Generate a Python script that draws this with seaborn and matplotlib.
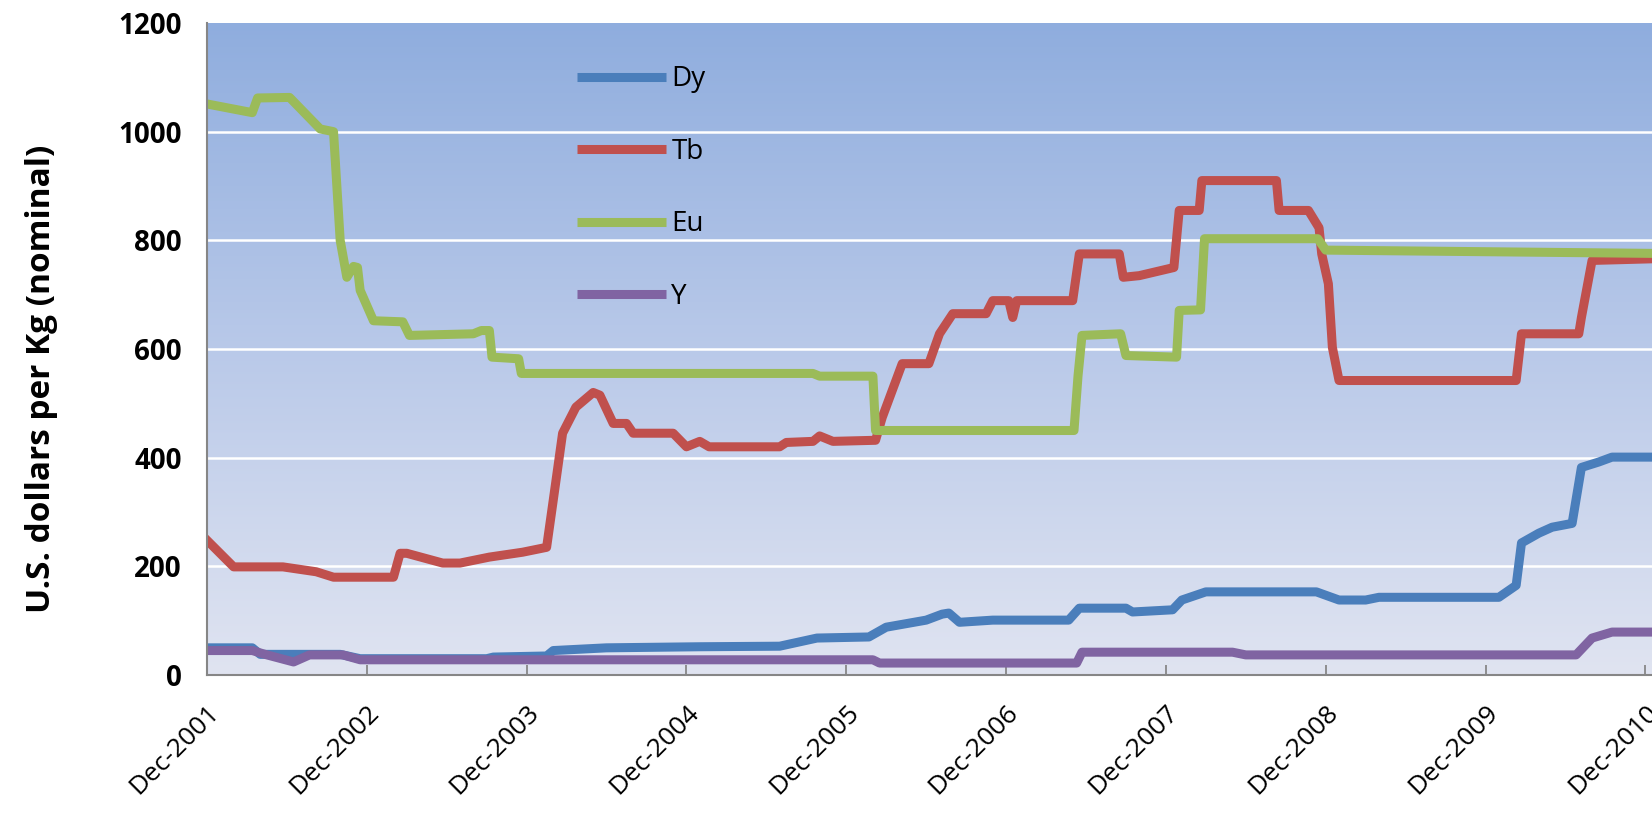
import numpy as np
import pandas as pd
import seaborn as sns
import matplotlib.pyplot as plt
from matplotlib.colors import LinearSegmentedColormap

# months since Dec-2001, and price (USD/kg) at each break point
DY_MONTH = [0, 3.4, 4, 10, 11.5, 21, 21.5, 25.5, 26, 30, 37, 43, 45.8, 49.7, 51, 54, 55.2, 55.7,
            56.5, 59, 64.7, 65.5, 69, 69.5, 72.5, 73.2, 75, 83.3, 85, 87, 88, 97, 98.3, 98.7,
            100, 101, 102.5, 103.2, 104.5, 105.5, 108.5]
DY_PRICE = [50, 50, 38, 38, 30, 30, 33, 35, 45, 50, 52, 53, 68, 70, 88, 101, 112, 114,
            97, 101, 101, 123, 123, 116, 120, 138, 153, 153, 138, 138, 143, 143, 165, 243,
            261, 272, 279, 382, 392, 401, 401]

TB_MONTH = [0, 2, 5.7, 8.2, 9.5, 14, 14.5, 15, 17.7, 19, 21.2, 23.7, 25.5, 26, 26.7, 27.7, 29,
            29.5, 30.5, 31.5, 32, 35, 36, 37, 37.7, 43, 43.5, 45.5, 46, 47, 50.2, 50.7, 52.2,
            54.2, 55, 56, 58.5, 59, 60.2, 60.5, 60.8, 65, 65.5, 68.5, 68.8, 70, 72.6, 73,
            74.5, 74.7, 80.3, 80.5, 82.7, 83.5, 83.7, 84.2, 84.5, 85, 98.3, 98.7, 103,
            103.2, 104, 108.5]
TB_PRICE = [248, 199, 199, 190, 180, 180, 224, 224, 206, 206, 217, 226, 235, 322, 445, 493, 520,
            515, 463, 463, 445, 445, 420, 430, 420, 420, 428, 430, 440, 430, 432, 474, 573,
            573, 628, 665, 665, 689, 689, 658, 689, 689, 775, 775, 732, 735, 750, 855,
            855, 910, 910, 855, 855, 823, 775, 720, 603, 542, 542, 628, 628,
            658, 763, 766]

EU_MONTH = [0, 3.4, 3.8, 6.2, 8.5, 9.5, 10, 10.5, 11, 11.3, 11.5, 12.5, 14.7, 15.2, 20, 20.6,
            21.2, 21.4, 23.4, 23.6, 45.5, 46, 50, 50.2, 65.1, 65.4, 65.7, 68.6, 69, 72.8, 73,
            74.6, 74.9, 83.4, 84, 108.5]
EU_PRICE = [1051, 1035, 1062, 1063, 1005, 1000, 800, 732, 752, 750, 708, 652, 650, 625, 628, 634,
            634, 585, 582, 555, 555, 550, 550, 450, 450, 550, 625, 628, 588, 585, 671,
            672, 803, 803, 782, 776]

Y_MONTH = [0, 3.4, 4.5, 6.5, 7.7, 10.2, 11.5, 50, 50.5, 65.3, 65.7, 77, 78, 102.8, 104, 105.5, 108.5]
Y_PRICE = [45, 45, 37, 24, 37, 37, 28, 28, 22, 22, 42, 42, 37, 37, 68, 79, 79]

SERIES = ['Dy', 'Tb', 'Eu', 'Y']
COLOURS = {'Dy': '#4a7ebb', 'Tb': '#c0504d', 'Eu': '#9bbb59', 'Y': '#8064a2'}
TICK_LABELS = ['Dec-2001', 'Dec-2002', 'Dec-2003', 'Dec-2004', 'Dec-2005',
               'Dec-2006', 'Dec-2007', 'Dec-2008', 'Dec-2009', 'Dec-2010']

frames = []
for name, months, prices in zip(SERIES, [DY_MONTH, TB_MONTH, EU_MONTH, Y_MONTH],
                                [DY_PRICE, TB_PRICE, EU_PRICE, Y_PRICE]):
    frames.append(pd.DataFrame({'month': months, 'price': prices, 'metal': name}))
df = pd.concat(frames, ignore_index=True)

plt.rcParams['font.family'] = ['Open Sans', 'DejaVu Sans']

fig = plt.figure(figsize=(16.52, 8.21), dpi=100)
ax = fig.add_axes([207 / 1652, 1 - 675 / 821, 1445 / 1652, 652 / 821])

# blue-to-pale background gradient like the Excel chart
grad = LinearSegmentedColormap.from_list('bg', ['#e0e4f1', '#b9c9e9', '#8fadde'])
ax.imshow(np.linspace(0, 1, 256).reshape(-1, 1), cmap=grad, origin='lower', aspect='auto',
          extent=[0, 1, 0, 1], transform=ax.transAxes, zorder=0)

for y in range(200, 1001, 200):
    ax.axhline(y, color='white', lw=1.8, zorder=1)

sns.lineplot(data=df, x='month', y='price', hue='metal', hue_order=SERIES, palette=COLOURS,
             estimator=None, sort=False, lw=6.5, ax=ax, zorder=3)
for line in ax.lines[-4:]:
    line.set_solid_capstyle('butt')
    line.set_solid_joinstyle('round')

ax.set_xlim(0, 108.5)
ax.set_ylim(0, 1200)
ax.set_xticks(range(0, 109, 12))
ax.set_xticklabels(TICK_LABELS, rotation=45, ha='right', rotation_mode='anchor', fontsize=19)
ax.set_yticks(range(0, 1201, 200))
ax.set_yticklabels([str(v) for v in range(0, 1201, 200)], fontsize=20, fontweight='bold')
ax.tick_params(axis='x', direction='in', length=7, width=1.2, color='#7f7f7f', pad=18)
ax.tick_params(axis='y', length=0, pad=18)
for side in ['top', 'right']:
    ax.spines[side].set_visible(False)
for side in ['left', 'bottom']:
    ax.spines[side].set_color('#868686')
    ax.spines[side].set_linewidth(1.5)
    ax.spines[side].set_zorder(4)

ax.set_xlabel('')
ax.set_ylabel('U.S. dollars per Kg (nominal)', fontsize=24, fontweight='bold')
ax.yaxis.set_label_coords(-0.103, 0.455)

leg = ax.legend(loc='upper left', bbox_to_anchor=(0.256, 0.935), frameon=False, fontsize=20,
                handlelength=3.2, handletextpad=0.2, labelspacing=1.6, borderpad=0,
                borderaxespad=0)
for h in leg.get_lines():
    h.set_linewidth(6.5)

fig.savefig('out.png', dpi=100)
